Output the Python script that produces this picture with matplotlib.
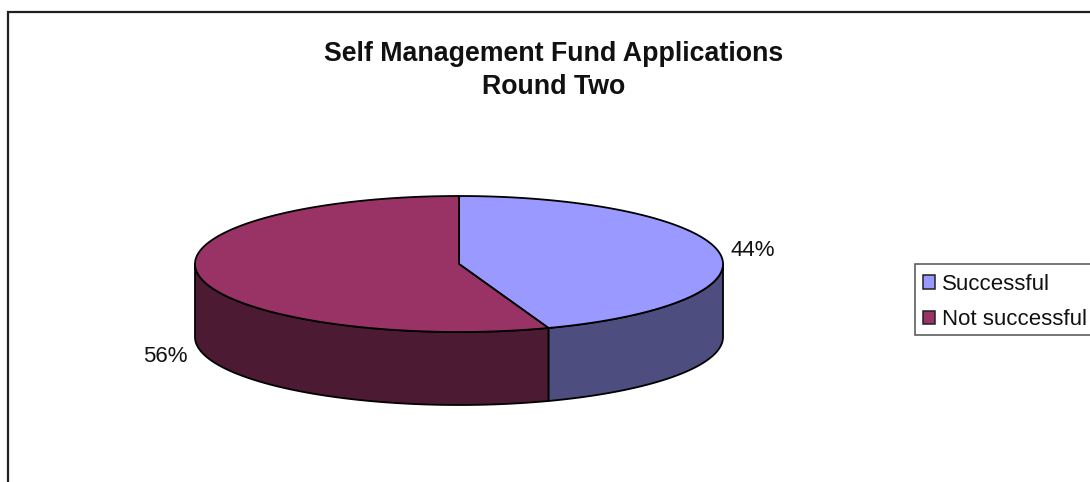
"""
Self Management Fund pie, drawn as an extruded ellipse like the old Excel 3D pie.
"""
import numpy as np
import matplotlib
matplotlib.use("Agg")
import matplotlib.pyplot as plt
from matplotlib.patches import Polygon, Rectangle

categories = ["Successful", "Not successful"]
shares = [44.5, 55.5]
pct_labels = ["44%", "56%"]
top_colors = ["#9999FF", "#993366"]
side_colors = ["#4D4D80", "#4D1A33"]

plt.rcParams["font.family"] = ["Liberation Sans", "DejaVu Sans"]

CX, CY = 459, 264
RX, RY = 264, 68
DEPTH = 73


def rim(a0, a1, n=200):
    # a is clockwise from 12 o'clock, in degrees
    t = np.radians(np.linspace(a0, a1, n))
    return CX + RX * np.sin(t), CY - RY * np.cos(t)


fig = plt.figure(figsize=(10.9, 4.82), dpi=100)
ax = fig.add_axes([0, 0, 1, 1])
ax.set_xlim(0, 1090)
ax.set_ylim(482, 0)
ax.axis("off")

# chart frame, runs off the right and bottom edge
ax.add_patch(Rectangle((8, 12), 1200, 600, fc="white", ec="#202020", lw=1.6))

angles = np.concatenate([[0], np.cumsum(shares) / np.sum(shares) * 360])

# side walls first (only the front half of the rim shows)
for i in range(len(shares)):
    a0 = max(angles[i], 90)
    a1 = min(angles[i + 1], 270)
    x, y = rim(a0, a1)
    xs = np.concatenate([x, x[::-1]])
    ys = np.concatenate([y, y[::-1] + DEPTH])
    ax.add_patch(Polygon(np.column_stack([xs, ys]), fc=side_colors[i], ec="black", lw=1.3, joinstyle="round"))

# top slices
for i in range(len(shares)):
    x, y = rim(angles[i], angles[i + 1])
    pts = np.column_stack([np.r_[CX, x], np.r_[CY, y]])
    ax.add_patch(Polygon(pts, fc=top_colors[i], ec="black", lw=1.3, joinstyle="round"))

ax.text(753, 250, pct_labels[0], fontsize=16, color="#111111", ha="center", va="center")
ax.text(165, 356, pct_labels[1], fontsize=16, color="#111111", ha="center", va="center")

ax.text(554, 70.5, "Self Management Fund Applications\nRound Two", fontsize=19.3,
        fontweight="bold", ha="center", va="center", linespacing=1.32, color="#111111")

# legend box drawn on its own, the legend frame can't be centred on the rows
ax.add_patch(Rectangle((915, 264), 300, 71, fc="white", ec="#505050", lw=1.1))
handles = [
    Rectangle((0, 0), 1, 1, fc=top_colors[i], ec="#202020", lw=1.1)
    for i in range(len(categories))
]
leg = ax.legend(handles, categories, loc="upper left", bbox_to_anchor=(915 / 1090, 1 - 266 / 482),
                frameon=False, fontsize=16,
                handlelength=0.55, handleheight=0.55, handletextpad=0.32, labelspacing=0.64,
                borderpad=0.36, borderaxespad=0, labelcolor="#111111")

fig.savefig("out.png", dpi=100)
